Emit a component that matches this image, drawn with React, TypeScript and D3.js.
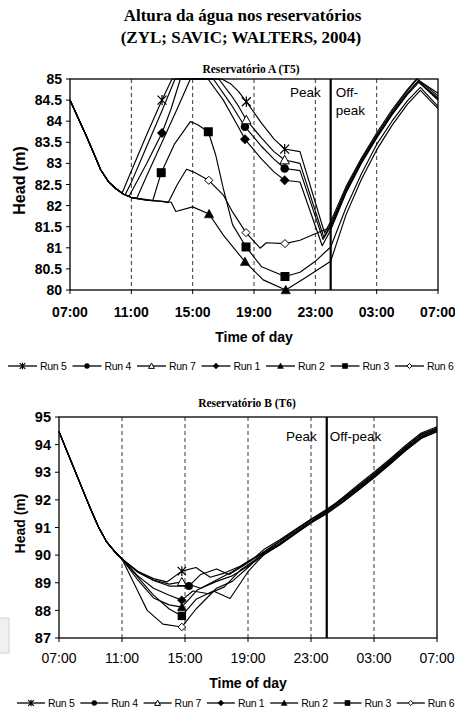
import React from "react";
import * as d3 from "d3";

type Pt = [number, number];

// hours counted from 07:00 (0) to 07:00 next day (24)
const HOUR_TICKS = [0, 4, 8, 12, 16, 20, 24];
const HOUR_LABELS = ["07:00", "11:00", "15:00", "19:00", "23:00", "03:00", "07:00"];
const GRID_HOURS = [4, 8, 12, 16, 20];
const PEAK_END_HOUR = 17;

const RUN_NAMES = ["Run 5", "Run 4", "Run 7", "Run 1", "Run 2", "Run 3", "Run 6"];
const RUN_MARKERS = ["star", "circle", "triangleOpen", "diamond", "triangle", "square", "diamondOpen"];

const A_HEAD_TICKS = [80, 80.5, 81, 81.5, 82, 82.5, 83, 83.5, 84, 84.5, 85];
const B_HEAD_TICKS = [87, 88, 89, 90, 91, 92, 93, 94, 95];

// ---- Reservatório A (T5)
const A_COMMON: Pt[] = [[0, 84.5], [0.5, 84.1], [1, 83.7], [1.5, 83.28], [2, 82.85], [2.5, 82.57], [3, 82.4]];
const A_FLAT: Pt[] = [[3.5, 82.27], [4, 82.19], [5, 82.13], [6, 82.1]];

const A_RUN5: Pt[] = [...A_COMMON, [3.4, 82.3], [4, 82.82], [5, 83.68], [6, 84.5], [6.65, 85], [9.9, 85], [10.5, 84.88], [11, 84.7], [11.5, 84.46], [12.5, 83.95], [13.3, 83.58], [14, 83.34], [15, 83.28], [16.6, 81.35], [17, 81.62], [18, 82.45], [19, 83.12], [20, 83.72], [21, 84.27], [22, 84.75], [22.6, 85], [24, 84.66]];
const A_RUN4: Pt[] = [...A_COMMON, [3.5, 82.27], [4, 82.19], [4.35, 82.17], [5, 82.7], [6, 83.5], [7, 84.3], [7.85, 85], [9.35, 85], [10.5, 84.4], [11.41, 83.87], [12.5, 83.4], [13.3, 83.1], [14, 82.88], [15, 82.83], [16.5, 81.2], [17, 81.5], [18, 82.35], [19, 83.04], [20, 83.64], [21, 84.18], [22, 84.66], [22.7, 84.95], [24, 84.52]];
const A_RUN7: Pt[] = [...A_COMMON, [3.5, 82.27], [3.6, 82.26], [4, 82.55], [5, 83.4], [6, 84.25], [6.85, 85], [9.7, 85], [10.5, 84.62], [11, 84.35], [11.5, 84.03], [12.5, 83.6], [13.3, 83.28], [14, 83.08], [15, 83.0], [16.55, 81.25], [17, 81.55], [18, 82.4], [19, 83.08], [20, 83.68], [21, 84.22], [22, 84.72], [22.65, 85], [24, 84.6]];
const A_RUN1: Pt[] = [...A_COMMON, [3.5, 82.27], [3.85, 82.22], [5, 83.0], [6, 83.72], [6.6, 84.3], [7.2, 85], [9.0, 85], [10, 84.5], [11, 83.85], [11.41, 83.57], [12.5, 83.1], [13.3, 82.8], [14, 82.6], [15, 82.56], [16.45, 81.05], [17, 81.42], [18, 82.3], [19, 83.0], [20, 83.6], [21, 84.15], [22, 84.63], [22.75, 84.92], [24, 84.5]];
const A_RUN2: Pt[] = [...A_COMMON, ...A_FLAT, [6.6, 82.08], [6.9, 81.86], [8.0, 81.97], [9.07, 81.8], [10, 81.3], [11.41, 80.67], [12.6, 80.24], [14.07, 80.0], [15.4, 80.3], [17, 80.68], [18, 81.78], [19, 82.62], [20, 83.32], [21, 83.9], [22, 84.4], [22.85, 84.73], [24, 84.3]];
const A_RUN3: Pt[] = [...A_COMMON, [3.5, 82.27], [4, 82.19], [5, 82.14], [5.4, 82.12], [5.95, 82.78], [6.8, 83.45], [7.85, 83.99], [8.3, 83.92], [9.02, 83.75], [9.5, 83.2], [10, 82.4], [10.6, 81.55], [11.48, 81.02], [12.5, 80.55], [14.02, 80.32], [15, 80.42], [16, 80.68], [17, 81.02], [18, 81.95], [19, 82.75], [20, 83.45], [21, 84.0], [22, 84.48], [22.85, 84.8], [24, 84.35]];
const A_RUN6: Pt[] = [...A_COMMON, ...A_FLAT, [6.4, 82.07], [7.0, 82.5], [7.6, 82.86], [8.04, 82.8], [9.05, 82.6], [10, 82.25], [10.6, 81.85], [11.48, 81.36], [12.4, 80.99], [12.8, 81.12], [14.02, 81.1], [15, 81.18], [16.3, 81.38], [17, 81.48], [18, 82.32], [19, 83.02], [20, 83.62], [21, 84.17], [22, 84.66], [22.7, 84.95], [24, 84.55]];

const A_MARKS_RUN5 = [6, 11.5, 14];
const A_MARKS_RUN4 = [11.41, 14];
const A_MARKS_RUN7 = [11.5, 14];
const A_MARKS_RUN1 = [6, 11.41, 14];
const A_MARKS_RUN2 = [9.07, 11.41, 14.07];
const A_MARKS_RUN3 = [5.95, 9.02, 11.48, 14.02];
const A_MARKS_RUN6 = [9.05, 11.48, 14.02];

// ---- Reservatório B (T6)
const B_COMMON: Pt[] = [[0, 94.47], [0.5, 93.77], [1, 93.07], [1.5, 92.37], [2, 91.68], [2.5, 91.03], [3, 90.5], [3.5, 90.15], [4, 89.86]];

const B_RUN5: Pt[] = [...B_COMMON, [5, 89.42], [6, 89.15], [6.85, 89.03], [7.8, 89.42], [8.7, 89.55], [9.6, 89.2], [10.5, 89.35], [11.5, 89.6], [12.5, 89.95], [13, 90.2], [14, 90.55], [15, 90.93], [16, 91.3], [17, 91.62], [18, 92.08], [19, 92.55], [20, 93.0], [21, 93.47], [22, 93.97], [23, 94.42], [24, 94.65]];
const B_RUN4: Pt[] = [...B_COMMON, [5, 89.38], [6, 89.08], [7, 88.88], [8.25, 88.88], [9, 89.3], [10, 89.5], [10.8, 89.3], [11.8, 89.65], [13, 90.12], [14, 90.5], [15, 90.9], [16, 91.3], [17, 91.66], [18, 92.05], [19, 92.5], [20, 92.95], [21, 93.42], [22, 93.92], [23, 94.38], [24, 94.6]];
const B_RUN7: Pt[] = [...B_COMMON, [5, 89.4], [6, 89.1], [7, 88.95], [7.8, 89.03], [9, 88.8], [10, 89.1], [11, 89.4], [12, 89.75], [13, 90.08], [14, 90.42], [15, 90.82], [16, 91.22], [17, 91.58], [18, 92.0], [19, 92.43], [20, 92.88], [21, 93.36], [22, 93.86], [23, 94.3], [24, 94.55]];
const B_RUN1: Pt[] = [...B_COMMON, [5, 89.25], [6, 88.8], [7, 88.55], [7.8, 88.37], [8.5, 88.7], [9.5, 88.6], [10.5, 88.85], [11.5, 89.45], [13, 90.05], [14, 90.4], [15, 90.8], [16, 91.2], [17, 91.55], [18, 91.95], [19, 92.4], [20, 92.85], [21, 93.33], [22, 93.83], [23, 94.28], [24, 94.52]];
const B_RUN2: Pt[] = [...B_COMMON, [5, 89.1], [6, 88.45], [7, 88.2], [7.8, 88.12], [8.8, 88.75], [10, 89.05], [11, 89.25], [12, 89.6], [13, 90.0], [14, 90.38], [15, 90.78], [16, 91.18], [17, 91.54], [18, 91.92], [19, 92.36], [20, 92.82], [21, 93.3], [22, 93.8], [23, 94.25], [24, 94.48]];
const B_RUN3: Pt[] = [...B_COMMON, [5, 89.2], [6, 88.55], [7, 88.05], [7.8, 87.8], [8.7, 88.4], [9.8, 88.7], [10.86, 88.43], [12, 89.4], [13, 90.02], [14, 90.36], [15, 90.76], [16, 91.16], [17, 91.5], [18, 91.9], [19, 92.35], [20, 92.8], [21, 93.28], [22, 93.78], [23, 94.22], [24, 94.47]];
const B_RUN6: Pt[] = [...B_COMMON, [5, 88.7], [5.6, 88.0], [6.6, 87.5], [7.8, 87.4], [8.7, 88.05], [10, 88.8], [11, 89.05], [12, 89.55], [13, 90.1], [14, 90.48], [15, 90.86], [16, 91.27], [17, 91.6], [18, 92.02], [19, 92.47], [20, 92.92], [21, 93.4], [22, 93.9], [23, 94.35], [24, 94.57]];

const B_MARKS_RUN5 = [7.8];
const B_MARKS_RUN4 = [8.25];
const B_MARKS_RUN7 = [7.8];
const B_MARKS_RUN1 = [7.8];
const B_MARKS_RUN2 = [7.8];
const B_MARKS_RUN3 = [7.8];
const B_MARKS_RUN6 = [7.8];

const A_SERIES = [A_RUN5, A_RUN4, A_RUN7, A_RUN1, A_RUN2, A_RUN3, A_RUN6];
const A_MARKS = [A_MARKS_RUN5, A_MARKS_RUN4, A_MARKS_RUN7, A_MARKS_RUN1, A_MARKS_RUN2, A_MARKS_RUN3, A_MARKS_RUN6];
const B_SERIES = [B_RUN5, B_RUN4, B_RUN7, B_RUN1, B_RUN2, B_RUN3, B_RUN6];
const B_MARKS = [B_MARKS_RUN5, B_MARKS_RUN4, B_MARKS_RUN7, B_MARKS_RUN1, B_MARKS_RUN2, B_MARKS_RUN3, B_MARKS_RUN6];

const SANS = "'Liberation Sans', Arial, Helvetica, sans-serif";
const SERIF = "'Liberation Serif', 'Times New Roman', serif";

const bis = d3.bisector((d: Pt) => d[0]).left;
function headAt(s: Pt[], h: number): number {
  const i = bis(s, h);
  if (i <= 0) return s[0][1];
  if (i >= s.length) return s[s.length - 1][1];
  const [h0, v0] = s[i - 1];
  const [h1, v1] = s[i];
  if (h1 === h) return v1;
  return v0 + ((v1 - v0) * (h - h0)) / (h1 - h0);
}

function Marker({ kind, x, y, r }: { kind: string; x: number; y: number; r: number }) {
  const t = `translate(${x},${y})`;
  switch (kind) {
    case "star":
      return (
        <path transform={t} d={`M${-r},${-r}L${r},${r}M${-r},${r}L${r},${-r}M0,${-r * 1.15}L0,${r * 1.15}`} stroke="#000" strokeWidth={1.2} fill="none" />
      );
    case "circle":
      return <circle cx={x} cy={y} r={r * 0.95} fill="#000" />;
    case "triangle":
    case "triangleOpen": {
      const open = kind === "triangleOpen";
      return (
        <path transform={t} d={`M0,${-r * 1.05}L${r * 1.05},${r * 0.85}L${-r * 1.05},${r * 0.85}Z`} fill={open ? "#fff" : "#000"} stroke="#000" strokeWidth={open ? 1 : 0.5} />
      );
    }
    case "square":
      return <rect x={x - r} y={y - r} width={2 * r} height={2 * r} fill="#000" />;
    case "diamond":
    case "diamondOpen": {
      const open = kind === "diamondOpen";
      const rr = open ? r * 0.9 : r * 1.05;
      return (
        <path transform={t} d={`M0,${-rr}L${rr},0L0,${rr}L${-rr},0Z`} fill={open ? "#fff" : "#000"} stroke="#000" strokeWidth={open ? 1 : 0.5} />
      );
    }
  }
  return null;
}

type ChartProps = {
  left: number; right: number; top: number; bottom: number;
  domain: [number, number]; yTicks: number[];
  series: Pt[][]; marks: number[][];
  title: string; titleX: number; titleY: number;
  yLabelEnd: number; yLabelSize: number;
  xLabelY: number; xLabelSize: number; xLabelWeight: string;
  xTitleY: number; yTitleSize: number; xTitleSize: number;
  peakY: number; offpeakTwoLines: boolean; markerR: number;
};

function Chart(p: ChartProps) {
  const x = d3.scaleLinear().domain([0, 24]).range([p.left, p.right]);
  const y = d3.scaleLinear().domain(p.domain).range([p.bottom, p.top]);
  const line = d3.line<Pt>().x((d) => x(d[0])).y((d) => y(d[1]));
  const midX = x(PEAK_END_HOUR);
  return (
    <g>
      <text x={p.titleX} y={p.titleY} textAnchor="middle" fontFamily={SERIF} fontWeight="bold" fontSize={11.5}>
        {p.title}
      </text>
      {GRID_HOURS.map((h) => (
        <line key={h} x1={x(h)} x2={x(h)} y1={p.top} y2={p.bottom} stroke="#222" strokeWidth={0.9} strokeDasharray="4,3" />
      ))}
      {p.series.map((s, i) => (
        <path key={i} d={line(s) || ""} fill="none" stroke="#000" strokeWidth={1.15} strokeLinejoin="round" />
      ))}
      <line x1={midX} x2={midX} y1={p.top} y2={p.bottom} stroke="#000" strokeWidth={2.2} />
      <rect x={p.left} y={p.top} width={p.right - p.left} height={p.bottom - p.top} fill="none" stroke="#000" strokeWidth={1.3} />
      {p.series.map((s, i) =>
        p.marks[i].map((h, j) => (
          <Marker key={`${i}-${j}`} kind={RUN_MARKERS[i]} x={x(h)} y={y(headAt(s, h))} r={p.markerR} />
        ))
      )}
      {p.yTicks.map((v) => (
        <g key={v}>
          <line x1={p.left - 4} x2={p.left} y1={y(v)} y2={y(v)} stroke="#000" strokeWidth={1} />
          <text x={p.yLabelEnd} y={y(v)} dy="0.36em" textAnchor="end" fontFamily={SANS} fontWeight="bold" fontSize={p.yLabelSize}>
            {String(v)}
          </text>
        </g>
      ))}
      {HOUR_TICKS.map((h, i) => (
        <g key={i}>
          <line x1={x(h)} x2={x(h)} y1={p.bottom} y2={p.bottom + 4} stroke="#000" strokeWidth={1} />
          <text x={x(h)} y={p.xLabelY} textAnchor="middle" fontFamily={SANS} fontWeight={p.xLabelWeight} fontSize={p.xLabelSize}>
            {HOUR_LABELS[i]}
          </text>
        </g>
      ))}
      <text x={(p.left + p.right) / 2} y={p.xTitleY} textAnchor="middle" fontFamily={SANS} fontWeight="bold" fontSize={p.xTitleSize}>
        Time of day
      </text>
      <text transform={`translate(25,${(p.top + p.bottom) / 2 - 4}) rotate(-90)`} textAnchor="middle" fontFamily={SANS} fontWeight="bold" fontSize={p.yTitleSize}>
        Head (m)
      </text>
      <text x={midX - 10} y={p.peakY} textAnchor="end" fontFamily={SANS} fontSize={13.5}>
        Peak
      </text>
      {p.offpeakTwoLines ? (
        <text x={midX + 5} y={p.peakY} fontFamily={SANS} fontSize={13.5}>
          <tspan x={midX + 5}>Off-</tspan>
          <tspan x={midX + 5} dy={18}>peak</tspan>
        </text>
      ) : (
        <text x={midX + 3} y={p.peakY} fontFamily={SANS} fontSize={13.5}>
          Off-peak
        </text>
      )}
    </g>
  );
}

function Legend({ x0, pitch, y, segW }: { x0: number; pitch: number; y: number; segW: number }) {
  return (
    <g>
      {RUN_NAMES.map((name, i) => {
        const sx = x0 + i * pitch;
        return (
          <g key={name}>
            <line x1={sx} x2={sx + segW} y1={y} y2={y} stroke="#000" strokeWidth={1.3} />
            <Marker kind={RUN_MARKERS[i]} x={sx + segW / 2} y={y} r={2.8} />
            <text x={sx + segW + 3} y={y} dy="0.35em" fontFamily={SANS} fontSize={10.5} letterSpacing={-0.3}>
              {name}
            </text>
          </g>
        );
      })}
    </g>
  );
}

export default function App() {
  return (
    <svg width={455} height={722} style={{ position: "absolute", left: 0, top: 0, background: "#fff" }}>
      <rect x={0} y={0} width={455} height={722} fill="#fff" />
      <rect x={-1} y={618} width={10} height={35} fill="#f0f0f0" stroke="#d2d2d2" strokeWidth={1} />
      <text x={242.5} y={21} textAnchor="middle" fontFamily={SERIF} fontWeight="bold" fontSize={17}>
        Altura da água nos reservatórios
      </text>
      <text x={241} y={43} textAnchor="middle" fontFamily={SERIF} fontWeight="bold" fontSize={17}>
        (ZYL; SAVIC; WALTERS, 2004)
      </text>
      <Chart
        left={70} right={438} top={79} bottom={290}
        domain={[80, 85]} yTicks={A_HEAD_TICKS}
        series={A_SERIES} marks={A_MARKS}
        title="Reservatório A (T5)" titleX={251} titleY={73}
        yLabelEnd={62} yLabelSize={14}
        xLabelY={317} xLabelSize={14} xLabelWeight="bold"
        xTitleY={341.5} yTitleSize={16} xTitleSize={14}
        peakY={97} offpeakTwoLines={true} markerR={4.5}
      />
      <Legend x0={8} pitch={64.5} y={366} segW={29} />
      <Chart
        left={59} right={437} top={417} bottom={638}
        domain={[87, 95]} yTicks={B_HEAD_TICKS}
        series={B_SERIES} marks={B_MARKS}
        title="Reservatório B (T6)" titleX={247} titleY={407}
        yLabelEnd={51} yLabelSize={14.5}
        xLabelY={663} xLabelSize={14} xLabelWeight="normal"
        xTitleY={688} yTitleSize={14} xTitleSize={14}
        peakY={441} offpeakTwoLines={false} markerR={4.2}
      />
      <Legend x0={17} pitch={63.3} y={703} segW={28} />
    </svg>
  );
}
